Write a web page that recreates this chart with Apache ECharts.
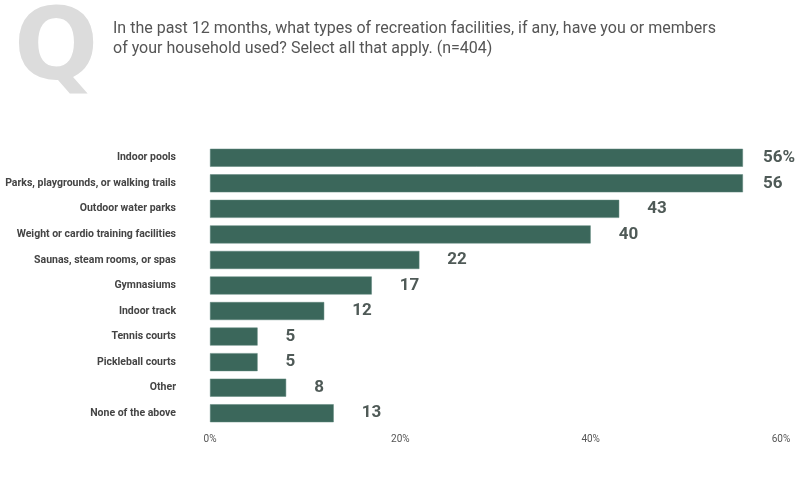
<!DOCTYPE html>
<html>
<head>
<meta charset="utf-8">
<script src="https://cdn.jsdelivr.net/npm/echarts@6/dist/echarts.min.js"></script>
<style>
  html, body { margin: 0; padding: 0; background: #fff; }
  #chart { width: 802px; height: 497px; }
</style>
</head>
<body>
<div id="chart"></div>
<script>
// Survey categories, top to bottom
const categories = [
  'Indoor pools',
  'Parks, playgrounds, or walking trails',
  'Outdoor water parks',
  'Weight or cardio training facilities',
  'Saunas, steam rooms, or spas',
  'Gymnasiums',
  'Indoor track',
  'Tennis courts',
  'Pickleball courts',
  'Other',
  'None of the above'
];
// Share of respondents (%)
const values = [56, 56, 43, 40, 22, 17, 12, 5, 5, 8, 13];
const axisTicks = [0, 20, 40, 60];

const questionText = 'In the past 12 months, what types of recreation facilities, if any, have you or members\nof your household used? Select all that apply. (n=404)';

const chart = echarts.init(document.getElementById('chart'));

const barData = values.map((v, i) => ({
  value: v,
  label: {
    distance: i < 2 ? 20 : 28,
    formatter: i === 0 ? v + '%' : String(v)
  }
}));

chart.setOption({
  animation: false,
  backgroundColor: '#fff',
  graphic: [
    {
      type: 'text',
      left: 14,
      top: 4,
      style: {
        text: 'Q',
        font: 'bold 99px "DejaVu Sans", sans-serif',
        fill: '#dcdcdc'
      }
    },
    {
      type: 'text',
      left: 113,
      top: 19,
      style: {
        text: questionText,
        font: '16px Roboto, sans-serif',
        lineHeight: 20,
        fill: '#555'
      }
    }
  ],
  grid: {
    left: 210,
    right: 21,
    top: 145,
    bottom: 71,
    containLabel: false,
    outerBoundsMode: 'none'
  },
  xAxis: {
    type: 'value',
    min: 0,
    max: 60,
    interval: 20,
    splitLine: { show: false },
    axisLine: { show: false },
    axisTick: { show: false },
    axisLabel: {
      formatter: v => (axisTicks.includes(v) ? v + '%' : ''),
      color: '#555',
      fontSize: 10,
      fontFamily: 'Roboto, sans-serif',
      margin: 8
    }
  },
  yAxis: {
    type: 'category',
    data: categories,
    inverse: true,
    axisLine: { show: false },
    axisTick: { show: false },
    axisLabel: {
      color: '#444',
      fontSize: 10.5,
      fontWeight: 'bold',
      fontFamily: 'Roboto, sans-serif',
      margin: 34
    }
  },
  series: [{
    type: 'bar',
    data: barData,
    barWidth: 18,
    itemStyle: {
      color: '#3b675b',
      borderColor: '#5d857a',
      borderWidth: 0.5
    },
    label: {
      show: true,
      position: 'right',
      color: '#4f5a57',
      fontSize: 17,
      fontWeight: 'bold',
      fontFamily: 'Roboto, sans-serif'
    }
  }]
});
</script>
</body>
</html>
